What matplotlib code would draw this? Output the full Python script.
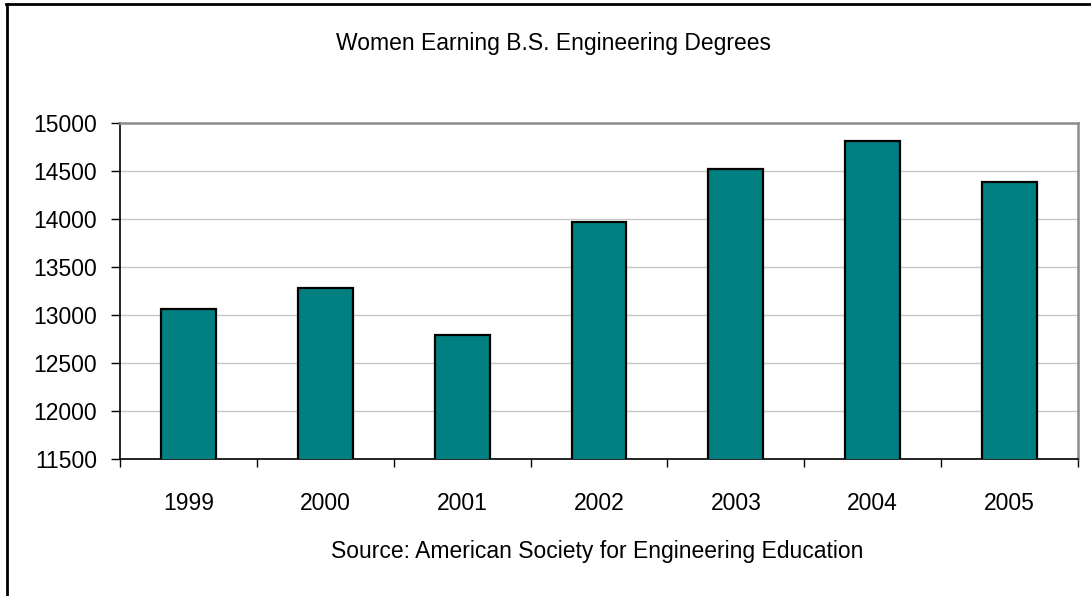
import matplotlib
matplotlib.use("Agg")
import matplotlib.pyplot as plt
from matplotlib.lines import Line2D

# dados
anos = ["1999", "2000", "2001", "2002", "2003", "2004", "2005"]
mulheres = [13060, 13280, 12790, 13965, 14520, 14810, 14390]
y_ticks = [11500, 12000, 12500, 13000, 13500, 14000, 14500, 15000]

TITULO = "Women Earning B.S. Engineering Degrees"
FONTE = "Source: American Society for Engineering Education"

COR_BARRA = "#008080"
TAM = 16.5

plt.rcParams["font.family"] = ["Liberation Sans", "DejaVu Sans"]

W, H = 1091, 596
fig = plt.figure(figsize=(W / 100, H / 100), dpi=100)
fig.patch.set_facecolor("white")

ax = fig.add_axes([120 / W, 1 - 459 / H, (1078 - 120) / W, (459 - 123) / H])

x = list(range(len(anos)))
ax.bar(x, mulheres, width=0.4, color=COR_BARRA, edgecolor="black", linewidth=1.6, zorder=3)

ax.set_xlim(-0.5, len(anos) - 0.5)
ax.set_ylim(11500, 15000)
ax.set_yticks(y_ticks)
ax.set_yticklabels([str(v) for v in y_ticks], fontsize=TAM)
ax.yaxis.grid(True, color="#C8C8C8", linewidth=1, zorder=0)

# ticks do eixo x nas fronteiras das categorias
ax.set_xticks([i - 0.5 for i in range(len(anos) + 1)])
ax.set_xticklabels([])
ax.set_xticks(x, minor=True)
ax.set_xticklabels(anos, minor=True, fontsize=TAM)
ax.tick_params(axis="x", which="minor", length=0, pad=24)
ax.tick_params(axis="x", which="major", length=6, width=1, direction="out", color="black")
ax.tick_params(axis="y", length=6.5, width=1, direction="out", pad=10)

for lado in ["top", "right"]:
    ax.spines[lado].set_color("#8C8C8C")
    ax.spines[lado].set_linewidth(1.8)
for lado in ["left", "bottom"]:
    ax.spines[lado].set_color("black")
    ax.spines[lado].set_linewidth(1.2)

fig.text(554 / W, 1 - 50 / H, TITULO, ha="center", va="baseline", fontsize=TAM)
fig.text(597 / W, 1 - 558 / H, FONTE, ha="center", va="baseline", fontsize=TAM)

# moldura (apenas esquerda e topo visíveis)
fig.add_artist(Line2D([7 / W, 7 / W], [0, 1 - 4 / H], transform=fig.transFigure, color="black", lw=2))
fig.add_artist(Line2D([6 / W, 1], [1 - 4 / H, 1 - 4 / H], transform=fig.transFigure, color="black", lw=2))

fig.savefig("out.png", dpi=100)
